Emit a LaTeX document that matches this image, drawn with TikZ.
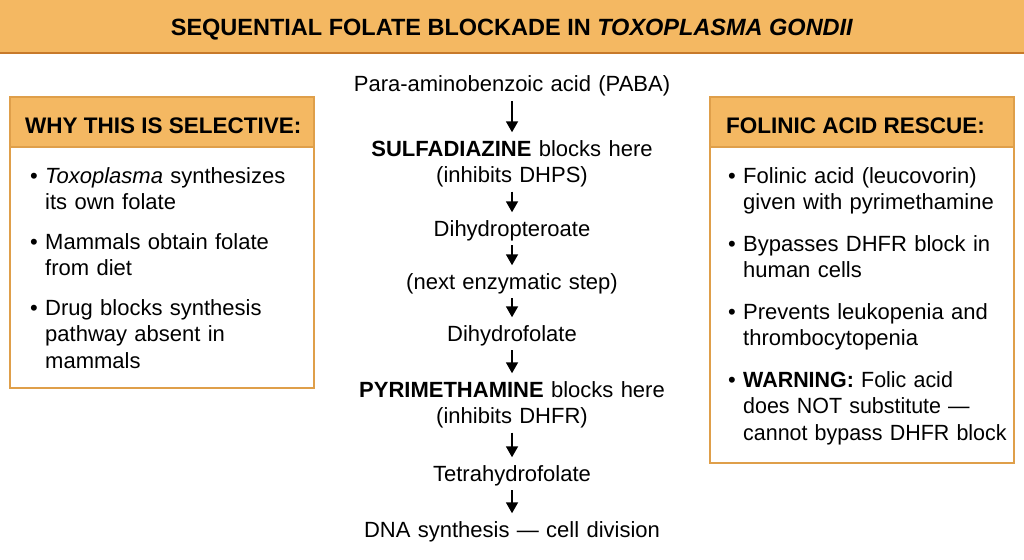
\documentclass[tikz,border=0pt]{standalone}
\usepackage{fontspec}
\setmainfont{Liberation Sans}
\usetikzlibrary{arrows.meta}

\definecolor{bandfill}{HTML}{F4B862}
\definecolor{bandline}{HTML}{C77A2B}
\definecolor{boxedge}{HTML}{DF9F4A}

\begin{document}
\begin{tikzpicture}[x=1pt, y=-1pt,
  every node/.style={inner sep=0pt, font=\fontsize{22}{26.5}\selectfont},
  head/.style={anchor=base west, font=\bfseries\fontsize{22.5}{26.5}\selectfont},
  item/.style={anchor=base west, text width=300pt, align=left,
    label={[anchor=base east, xshift=-7pt]base west:\textbullet}},
  stage/.style={anchor=base, text width=340pt, align=center,
    execute at begin node=\strut, execute at end node=\strut},
  flow/.style={-{Triangle[length=11pt, width=12pt]}, line width=1.8pt,
    shorten <=1pt, shorten >=5pt}]
  \useasboundingbox (0,0) rectangle (1024,559);

  % title band
  \fill[bandfill] (0,0) rectangle (1024,52);
  \draw[bandline, line width=2.5pt] (0,53) -- (1024,53);
  \node[font=\bfseries\fontsize{23.5}{28}\selectfont, anchor=base] (title) at (512,36)
    {SEQUENTIAL FOLATE BLOCKADE IN \textit{TOXOPLASMA GONDII}};

  % left box
  \fill[bandfill] (10,97) rectangle (314,147);
  \draw[boxedge, line width=1.5pt] (10,147) -- (314,147);
  \draw[boxedge, line width=2pt] (10,97) rectangle (314,388);
  \node[head] (whyhead) at (25,133) {WHY THIS IS SELECTIVE:};
  \node[item] (why1) at (45,183) {\textit{Toxoplasma} synthesizes\\its own folate};
  \node[item] (why2) at (45,249) {Mammals obtain folate\\from diet};
  \node[item] (why3) at (45,315) {Drug blocks synthesis\\pathway absent in\\mammals};

  % right box
  \fill[bandfill] (710,97) rectangle (1014,147);
  \draw[boxedge, line width=1.5pt] (710,147) -- (1014,147);
  \draw[boxedge, line width=2pt] (710,97) rectangle (1014,463);
  \node[head] (rescuehead) at (726,133) {FOLINIC ACID RESCUE:};
  \node[item] (res1) at (743,183) {Folinic acid (leucovorin)\\given with pyrimethamine};
  \node[item] (res2) at (743,251) {Bypasses DHFR block in\\human cells};
  \node[item] (res3) at (743,319) {Prevents leukopenia and\\thrombocytopenia};
  \node[item, xscale=0.975] (res4) at (743,387) {\textbf{WARNING:} Folic acid\\does NOT substitute ---\\cannot bypass DHFR block};

  % pathway
  \node[stage] (paba) at (512,92) {Para-aminobenzoic acid (PABA)};
  \node[stage] (sulfa) at (512,156) {\textbf{SULFADIAZINE} blocks here\\(inhibits DHPS)};
  \node[stage] (dhp) at (512,236) {Dihydropteroate};
  \node[stage] (next) at (512,289) {(next enzymatic step)};
  \node[stage] (dhf) at (512,341) {Dihydrofolate};
  \node[stage] (pyri) at (512,397) {\textbf{PYRIMETHAMINE} blocks here\\(inhibits DHFR)};
  \node[stage] (thf) at (512,481) {Tetrahydrofolate};
  \node[stage] (dna) at (512,537) {DNA synthesis --- cell division};

  \draw[flow] (paba) -- (sulfa);
  \draw[flow] (sulfa) -- (dhp);
  \draw[flow] (dhp) -- (next);
  \draw[flow] (next) -- (dhf);
  \draw[flow] (dhf) -- (pyri);
  \draw[flow] (pyri) -- (thf);
  \draw[flow] (thf) -- (dna);
\end{tikzpicture}
\end{document}
